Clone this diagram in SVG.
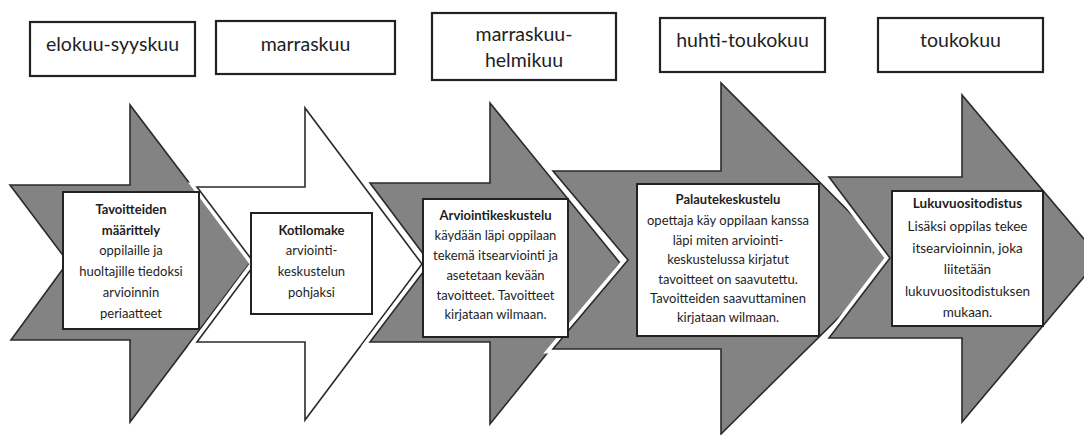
<svg xmlns="http://www.w3.org/2000/svg" width="1084" height="435" viewBox="0 0 1084 435">
<style>
.bg{fill:#ffffff}
.halo{fill:#ffffff;stroke:#ffffff;stroke-width:9;stroke-linejoin:miter}
.dark{fill:#838383;stroke:#2b2b2b;stroke-width:1.6;stroke-linejoin:miter}
.light{fill:#ffffff;stroke:#2b2b2b;stroke-width:1.6;stroke-linejoin:miter}
.card{fill:#ffffff;stroke:#222222;stroke-width:2}
.hdr{fill:#ffffff;stroke:#222222;stroke-width:2.2}
.ht{font-family:Lato,"Liberation Sans",sans-serif;font-size:19.5px;fill:#1e1e1e;text-anchor:middle}
.ct{font-family:Lato,"Liberation Sans",sans-serif;font-size:13px;fill:#1e1e1e;text-anchor:middle}
.c5{font-family:Lato,"Liberation Sans",sans-serif;font-size:13.5px;fill:#1e1e1e;text-anchor:middle}
.b{font-weight:bold}
</style>
<rect class="bg" x="0" y="0" width="1084" height="435"/>
<g id="connectors">
  <polygon id="arrow1" class="dark" points="10,185 130,185 130,105 250,263 130,422 130,340 11,340 68,262"/>
  <polygon class="halo" points="197,187 305,187 305,108 422,264 305,420 305,342 197,342 255,264"/>
  <polygon id="arrow2" class="light" points="197,187 305,187 305,108 422,264 305,420 305,342 197,342 255,264"/>
  <polygon class="halo" points="370,183 490,183 490,103 620,263 490,424 490,342 370,342 430,263"/>
  <polygon id="arrow3" class="dark" points="370,183 490,183 490,103 620,263 490,424 490,342 370,342 430,263"/>
  <polygon class="halo" points="553,171 721,171 721,83 897,260 721,434 721,349 553,349 628,260"/>
  <polygon id="arrow4" class="dark" points="553,171 721,171 721,83 897,260 721,434 721,349 553,349 628,260"/>
  <polygon class="halo" points="829,177 962,177 962,95 1100,258 962,422 962,338 829,338 890,258"/>
  <polygon id="arrow5" class="dark" points="829,177 962,177 962,95 1100,258 962,422 962,338 829,338 890,258"/>
</g>
<g id="hdr1"><rect class="hdr" x="30" y="22" width="165" height="54"/><text class="ht" x="112.5" y="51">elokuu-syyskuu</text></g>
<g id="hdr2"><rect class="hdr" x="216" y="21" width="179" height="53"/><text class="ht" x="305.5" y="51">marraskuu</text></g>
<g id="hdr3"><rect class="hdr" x="432" y="13" width="184" height="67"/><text class="ht" x="524" y="41">marraskuu-</text><text class="ht" x="524" y="67">helmikuu</text></g>
<g id="hdr4"><rect class="hdr" x="660" y="18" width="165" height="54"/><text class="ht" x="742.5" y="47">huhti-toukokuu</text></g>
<g id="hdr5"><rect class="hdr" x="878" y="18" width="165" height="54"/><text class="ht" x="960.5" y="47">toukokuu</text></g>
<g id="card1"><rect class="card" x="63" y="192" width="136" height="137"/>
  <text class="ct b" x="131" y="214">Tavoitteiden</text>
  <text class="ct b" x="131" y="235">määrittely</text>
  <text class="ct" x="131" y="255">oppilaille ja</text>
  <text class="ct" x="131" y="276">huoltajille tiedoksi</text>
  <text class="ct" x="131" y="297">arvioinnin</text>
  <text class="ct" x="131" y="318">periaatteet</text>
</g>
<g id="card2"><rect class="card" x="251" y="213" width="121" height="101"/>
  <text class="ct b" x="311.5" y="235">Kotilomake</text>
  <text class="ct" x="311.5" y="255">arviointi-</text>
  <text class="ct" x="311.5" y="276">keskustelun</text>
  <text class="ct" x="311.5" y="297">pohjaksi</text>
</g>
<g id="card3"><rect class="card" x="423" y="199" width="145" height="138"/>
  <text class="ct b" x="495.5" y="220">Arviointikeskustelu</text>
  <text class="ct" x="495.5" y="240">käydään läpi oppilaan</text>
  <text class="ct" x="495.5" y="260">tekemä itsearviointi ja</text>
  <text class="ct" x="495.5" y="280">asetetaan kevään</text>
  <text class="ct" x="495.5" y="300">tavoitteet. Tavoitteet</text>
  <text class="ct" x="495.5" y="319">kirjataan wilmaan.</text>
</g>
<g id="card4"><rect class="card" x="637" y="184" width="182" height="152"/>
  <text class="ct b" x="728" y="204">Palautekeskustelu</text>
  <text class="ct" x="728" y="225">opettaja käy oppilaan kanssa</text>
  <text class="ct" x="728" y="245">läpi miten arviointi-</text>
  <text class="ct" x="728" y="264">keskustelussa kirjatut</text>
  <text class="ct" x="728" y="284">tavoitteet on saavutettu.</text>
  <text class="ct" x="728" y="303">Tavoitteiden saavuttaminen</text>
  <text class="ct" x="728" y="322">kirjataan wilmaan.</text>
</g>
<g id="card5"><rect class="card" x="892" y="191" width="151" height="135"/>
  <text class="c5 b" x="967.5" y="208">Lukuvuositodistus</text>
  <text class="c5" x="967.5" y="231">Lisäksi oppilas tekee</text>
  <text class="c5" x="967.5" y="253">itsearvioinnin, joka</text>
  <text class="c5" x="967.5" y="274">liitetään</text>
  <text class="c5" x="967.5" y="296">lukuvuositodistuksen</text>
  <text class="c5" x="967.5" y="317">mukaan.</text>
</g>
</svg>
